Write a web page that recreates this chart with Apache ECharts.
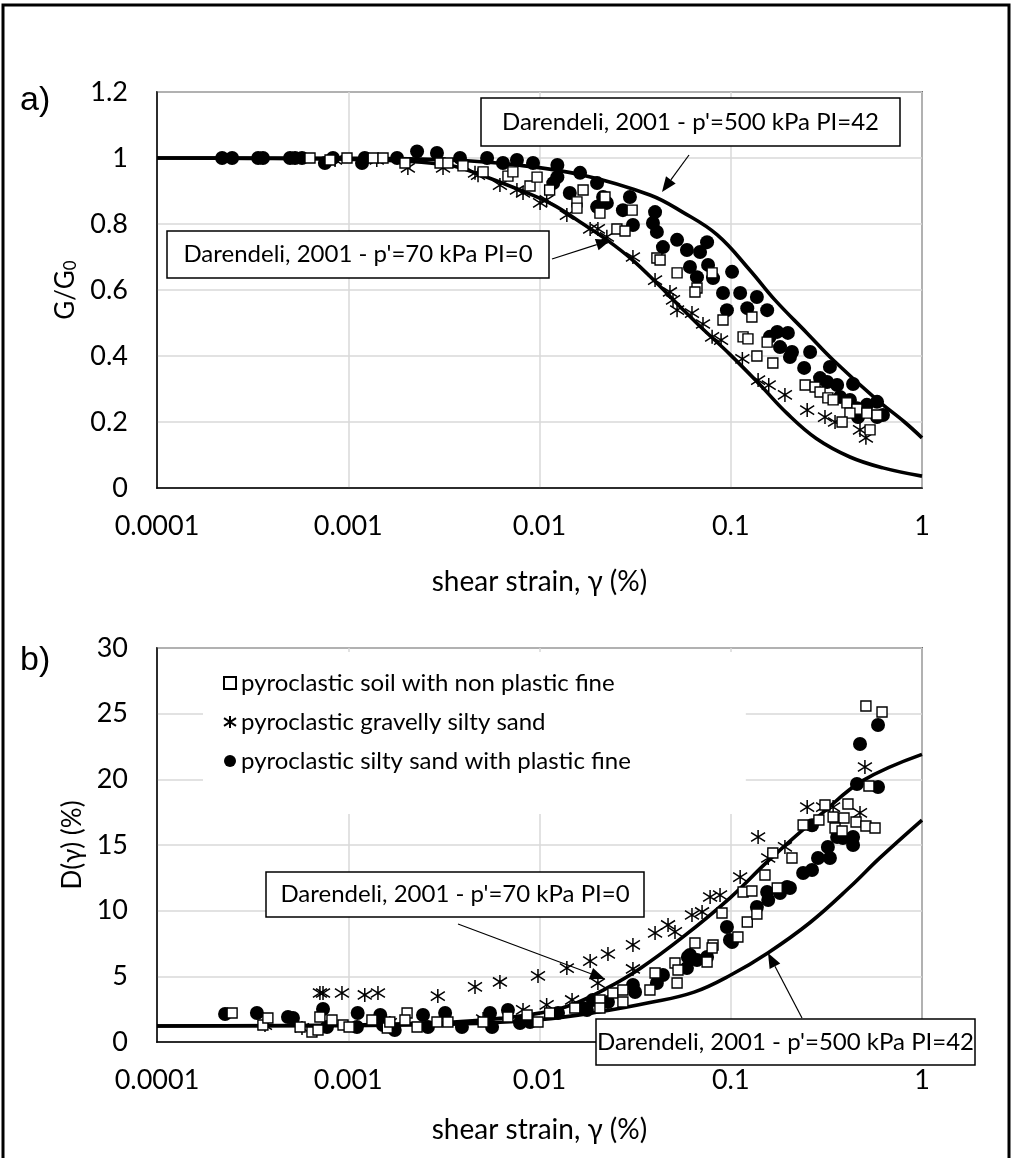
<!DOCTYPE html>
<html>
<head>
<meta charset="utf-8">
<script src="https://cdn.jsdelivr.net/npm/echarts@6/dist/echarts.min.js"></script>
<style>
html, body { margin: 0; padding: 0; background: #fff; }
#chart { width: 1013px; height: 1158px; }
</style>
</head>
<body>
<div id="chart"></div>
<script>
// Shear strain axis ticks (%)
const xTickLabels = ['0.0001', '0.001', '0.01', '0.1', '1'];
const seriesNames = [
  'pyroclastic soil with non plastic fine',
  'pyroclastic gravelly silty sand',
  'pyroclastic silty sand with plastic fine'
];

// ---- a) normalised shear modulus G/G0 vs shear strain (%) ----
const ggSquares = [
  [6.31e-4,1.0],[8.03e-4,0.994],[9.85e-4,1.0],[1.35e-3,1.0],[1.52e-3,1.0],[1.98e-3,0.985],
  [3.02e-3,0.985],[3.32e-3,0.985],[3.98e-3,0.976],[5.07e-3,0.958],[6.84e-3,0.945],[7.26e-3,0.958],
  [8.92e-3,0.915],[9.71e-3,0.942],[0.0113,0.903],[0.0157,0.867],[0.0157,0.848],[0.0169,0.903],
  [0.0207,0.833],[0.022,0.882],[0.0254,0.785],[0.028,0.779],[0.0305,0.842],[0.0411,0.697],
  [0.0427,0.691],[0.0524,0.652],[0.0666,0.606],[0.0799,0.652],[0.065,0.594],[0.0911,0.509],
  [0.129,0.518],[0.116,0.458],[0.123,0.452],[0.155,0.442],[0.137,0.40],[0.166,0.379],
  [0.245,0.312],[0.276,0.306],[0.293,0.291],[0.322,0.273],[0.343,0.267],[0.405,0.258],
  [0.457,0.239],[0.42,0.227],[0.515,0.227],[0.582,0.221],[0.382,0.20],[0.535,0.176]
];
const ggStars = [
  [8.53e-4,0.994],[1.41e-3,0.994],[2.05e-3,0.970],[3.13e-3,0.970],[4.77e-3,0.948],[4.6e-3,0.955],
  [6.21e-3,0.918],[7.62e-3,0.903],[8.2e-3,0.894],[0.01007,0.864],[0.0109,0.873],[0.0139,0.827],
  [0.0184,0.785],[0.0202,0.785],[0.0225,0.761],[0.0308,0.700],[0.0402,0.630],[0.0481,0.594],
  [0.0499,0.570],[0.0524,0.539],[0.0627,0.530],[0.0716,0.497],[0.0799,0.458],[0.089,0.448],
  [0.115,0.391],[0.139,0.327],[0.158,0.312],[0.192,0.282],[0.251,0.236],[0.311,0.215],
  [0.351,0.20],[0.474,0.176],[0.509,0.152]
];
const ggDots = [
  [2.19e-4,1.0],[2.47e-4,1.0],[3.38e-4,1.0],[3.58e-4,1.0],[4.96e-4,1.0],[5.27e-4,1.0],[5.73e-4,1.0],
  [7.55e-4,0.985],[8.32e-4,1.0],[1.18e-3,0.985],[1.22e-3,1.0],[1.8e-3,1.0],[2.29e-3,1.02],
  [2.91e-3,1.015],[3.84e-3,1.0],[5.32e-3,1.0],[6.44e-3,0.985],[7.62e-3,0.994],[9.25e-3,0.985],
  [0.0124,0.979],[0.0124,0.942],[0.0163,0.955],[0.0118,0.924],[0.0144,0.894],[0.020,0.924],
  [0.0215,0.882],[0.020,0.852],[0.0225,0.864],[0.0297,0.882],[0.0273,0.842],[0.0308,0.797],
  [0.0402,0.836],[0.0392,0.803],[0.0411,0.776],[0.0442,0.730],[0.0524,0.752],[0.059,0.721],
  [0.0691,0.715],[0.0752,0.745],[0.0612,0.670],[0.0666,0.639],[0.0761,0.676],[0.0808,0.636],
  [0.1016,0.655],[0.0911,0.591],[0.112,0.591],[0.137,0.579],[0.0955,0.539],[0.122,0.545],
  [0.155,0.539],[0.160,0.458],[0.175,0.473],[0.199,0.470],[0.181,0.427],[0.209,0.412],
  [0.204,0.397],[0.260,0.412],[0.242,0.364],[0.330,0.367],[0.293,0.333],[0.319,0.321],
  [0.360,0.312],[0.436,0.315],[0.373,0.276],[0.420,0.267],[0.457,0.242],[0.515,0.252],
  [0.582,0.261],[0.463,0.215],[0.582,0.215],[0.625,0.221]
];
const ggDarendeli70 = [
  [1e-4,1.0],[3e-4,0.999],[1e-3,0.996],[2e-3,0.99],[3.4e-3,0.977],[4.5e-3,0.957],[7.9e-3,0.903],
  [0.0118,0.858],[0.0163,0.806],[0.0225,0.752],[0.0308,0.69],[0.041,0.621],[0.054,0.551],
  [0.069,0.49],[0.099,0.405],[0.141,0.315],[0.197,0.226],[0.28,0.15],[0.42,0.094],
  [0.625,0.061],[1.0,0.036]
];
const ggDarendeli500 = [
  [1e-4,1.0],[1e-3,0.999],[3.4e-3,0.994],[7.6e-3,0.979],[0.0169,0.948],[0.0378,0.888],
  [0.056,0.836],[0.085,0.767],[0.126,0.66],[0.17,0.57],[0.25,0.47],[0.343,0.388],
  [0.582,0.267],[0.81,0.2],[1.0,0.152]
];

// ---- b) damping ratio D (%) vs shear strain (%) ----
const dSquares = [
  [2.47e-4,2.21],[3.58e-4,1.29],[3.8e-4,1.83],[5.6e-4,1.14],[6.46e-4,0.76],[7.11e-4,1.9],
  [6.95e-4,0.91],[8.22e-4,1.68],[9.39e-4,1.29],[1.01e-3,1.14],[1.33e-3,1.68],[1.6e-3,1.07],
  [1.65e-3,1.52],[2.03e-3,2.21],[1.98e-3,1.68],[2.29e-3,1.14],[2.91e-3,1.52],[3.32e-3,1.52],
  [5.07e-3,1.52],[6.84e-3,1.9],[8.61e-3,2.06],[9.82e-3,1.52],[0.0113,2.21],[0.0153,2.59],
  [0.0207,3.2],[0.0207,2.59],[0.0242,3.73],[0.0273,3.96],[0.0273,3.05],[0.0378,3.96],
  [0.0402,5.25],[0.0524,4.49],[0.0511,6.02],[0.053,5.48],[0.065,7.54],[0.0752,6.09],
  [0.0808,7.39],[0.0799,7.16],[0.109,8.0],[0.122,9.14],[0.090,9.82],[0.116,11.42],
  [0.129,11.5],[0.137,9.75],[0.151,12.72],[0.175,11.73],[0.166,14.39],[0.209,14.01],
  [0.239,16.52],[0.289,16.9],[0.311,18.05],[0.343,17.13],[0.391,17.06],[0.41,18.12],
  [0.351,16.29],[0.382,16.07],[0.452,16.75],[0.509,16.45],[0.568,16.29],[0.528,19.49],
  [0.509,25.58],[0.618,25.13]
];
const dStars = [
  [3.67e-4,1.29],[5.73e-4,1.07],[7.11e-4,3.73],[7.38e-4,3.73],[9.27e-4,3.73],[1.22e-3,3.58],
  [1.43e-3,3.73],[1.65e-3,1.45],[2.94e-3,3.5],[4.6e-3,4.19],[5.07e-3,1.75],[6.21e-3,4.57],
  [8.2e-3,2.44],[9.82e-3,5.03],[0.0109,2.82],[0.0139,5.63],[0.0148,3.2],[0.0184,6.16],
  [0.0202,4.49],[0.0228,6.7],[0.0308,7.39],[0.0308,5.56],[0.0402,8.3],[0.047,8.91],
  [0.0511,8.38],[0.0627,9.67],[0.0708,9.9],[0.078,11.04],[0.0879,11.19],[0.112,12.56],
  [0.139,15.61],[0.157,14.01],[0.192,14.85],[0.251,17.89],[0.304,17.89],[0.343,17.89],
  [0.474,17.44],[0.503,20.94]
];
const dDots = [
  [2.27e-4,2.13],[3.33e-4,2.21],[4.84e-4,1.9],[5.14e-4,1.83],[7.38e-4,2.51],[7.74e-4,1.14],
  [1.12e-3,2.21],[1.11e-3,1.14],[1.47e-3,2.06],[1.52e-3,1.29],[1.75e-3,0.91],[2.46e-3,2.06],
  [2.61e-3,1.14],[3.21e-3,2.21],[3.93e-3,1.14],[5.51e-3,2.21],[5.65e-3,1.14],[6.84e-3,2.44],
  [7.91e-3,1.45],[8.92e-3,1.52],[0.0125,2.21],[0.0177,2.44],[0.019,3.2],[0.0169,2.59],
  [0.0228,3.05],[0.0308,4.34],[0.0316,3.81],[0.0411,4.49],[0.0442,5.1],[0.059,5.63],
  [0.0612,6.62],[0.0666,6.24],[0.0752,6.47],[0.0597,6.47],[0.0955,8.76],[0.099,7.77],
  [0.1016,7.61],[0.137,10.28],[0.157,10.81],[0.155,11.42],[0.181,11.35],[0.197,11.8],
  [0.204,11.73],[0.239,12.87],[0.266,13.1],[0.286,14.01],[0.33,14.01],[0.322,14.85],
  [0.266,16.5],[0.36,15.61],[0.386,15.53],[0.436,15.61],[0.436,15.0],[0.457,19.65],
  [0.589,19.42],[0.474,22.69],[0.589,24.14]
];
const dDarendeli70 = [
  [1e-4,1.22],[1e-3,1.3],[3.4e-3,1.5],[6.2e-3,1.8],[0.01,2.2],[0.0145,2.8],[0.0225,4.1],
  [0.0336,5.6],[0.0563,8.0],[0.0996,11.0],[0.16,13.9],[0.30,17.4],[0.49,19.9],[1.0,21.9]
];
const dDarendeli500 = [
  [1e-4,1.22],[1e-3,1.25],[3.4e-3,1.35],[0.01,1.7],[0.0207,2.3],[0.0378,3.0],[0.0643,3.8],
  [0.1,5.1],[0.157,6.8],[0.26,9.1],[0.42,11.8],[0.6,14.0],[1.0,16.9]
];

const FONT = 'Lato, "Noto Sans", sans-serif';
const starPath = 'path://M5,0L5,10M0,1.8L10,8.2M0,8.2L10,1.8';

function xAxisFor(gridIndex, gap) {
  return {
    type: 'log', logBase: 10, gridIndex, min: 0.0001, max: 1,
    axisLine: { lineStyle: { color: '#000', width: 1.5 } },
    axisTick: { show: false },
    splitLine: { show: true, lineStyle: { color: '#d9d9d9', width: 1.5 } },
    axisLabel: {
      color: '#000', fontSize: 27, fontFamily: FONT, margin: 25,
      formatter: v => xTickLabels[Math.round(Math.log10(v)) + 4]
    },
    name: 'shear strain, \u03b3 (%)', nameLocation: 'middle', nameGap: gap,
    nameTextStyle: { color: '#000', fontSize: 28, fontFamily: FONT }
  };
}
function yAxisFor(gridIndex, max, interval, name, gap, digits) {
  return {
    type: 'value', gridIndex, min: 0, max, interval,
    axisLine: { show: true, lineStyle: { color: '#000', width: 1.5 } },
    axisTick: { show: false },
    splitLine: { show: true, lineStyle: { color: '#d9d9d9', width: 1.5 } },
    axisLabel: {
      color: '#000', fontSize: 27, fontFamily: FONT, margin: 29,
      formatter: v => String(+v.toFixed(digits))
    },
    name, nameLocation: 'middle', nameRotate: 90, nameGap: gap,
    nameTextStyle: {
      color: '#000', fontSize: 26, fontFamily: FONT,
      rich: { sub: { fontSize: 17, fontFamily: FONT, verticalAlign: 'bottom', padding: [10, 0, 0, 0] } }
    }
  };
}

function curve(data, xi) {
  return {
    type: 'line', xAxisIndex: xi, yAxisIndex: xi, data, showSymbol: false, symbol: 'none',
    smooth: 0.4, silent: true, z: 2,
    lineStyle: { color: '#000', width: 3.6 }
  };
}
function dots(data, xi) {
  return {
    name: seriesNames[2], type: 'scatter', xAxisIndex: xi, yAxisIndex: xi, data,
    symbol: 'circle', symbolSize: 14, z: 3,
    itemStyle: { color: '#000', opacity: 1 }
  };
}
function stars(data, xi) {
  return {
    name: seriesNames[1], type: 'scatter', xAxisIndex: xi, yAxisIndex: xi, data,
    symbol: starPath, symbolSize: 14, z: 4,
    itemStyle: { color: '#000', borderColor: '#000', borderWidth: 1.5, opacity: 1 }
  };
}
function squares(data, xi) {
  return {
    name: seriesNames[0], type: 'scatter', xAxisIndex: xi, yAxisIndex: xi, data,
    symbol: 'rect', symbolSize: 10, z: 5,
    itemStyle: { color: '#fff', borderColor: '#000', borderWidth: 1.4, opacity: 1 }
  };
}

// annotation box with centred caption
function noteBox(x, y, w, h, text) {
  return {
    type: 'group', children: [
      { type: 'rect', z: 50, shape: { x, y, width: w, height: h },
        style: { fill: '#fff', stroke: '#000', lineWidth: 1.5 } },
      { type: 'text', z: 51, x: x + w / 2, y: y + h / 2,
        style: { text, fill: '#000', font: '24px ' + FONT, align: 'center', verticalAlign: 'middle' } }
    ]
  };
}
// thin leader line ending in a filled arrow head at (x2, y2)
function arrow(x1, y1, x2, y2) {
  const a = Math.atan2(y2 - y1, x2 - x1), L = 15, W = 6;
  const bx = x2 - L * Math.cos(a), by = y2 - L * Math.sin(a);
  const px = -Math.sin(a) * W, py = Math.cos(a) * W;
  return {
    type: 'group', children: [
      { type: 'line', z: 52, shape: { x1, y1, x2: bx, y2: by }, style: { stroke: '#000', lineWidth: 1.2 } },
      { type: 'polygon', z: 52, shape: { points: [[x2, y2], [bx + px, by + py], [bx - px, by - py]] },
        style: { fill: '#000' } }
    ]
  };
}

const chart = echarts.init(document.getElementById('chart'), null, { renderer: 'canvas' });
chart.setOption({
  backgroundColor: '#fff',
  animation: false,
  textStyle: { fontFamily: FONT },
  grid: [
    { left: 157, top: 92, width: 765, height: 396, show: true, borderColor: '#000', borderWidth: 1.5, backgroundColor: 'transparent' },
    { left: 157, top: 648, width: 765, height: 394, show: true, borderColor: '#000', borderWidth: 1.5, backgroundColor: 'transparent' }
  ],
  xAxis: [xAxisFor(0, 80), xAxisFor(1, 74)],
  yAxis: [
    yAxisFor(0, 1.2, 0.2, 'G/G{sub|0}', 58, 1),
    yAxisFor(1, 30, 5, 'D(\u03b3) (%)', 52, 0)
  ],
  legend: {
    data: seriesNames, orient: 'vertical', left: 203, top: 652,
    padding: [18, 115, 40, 20], itemGap: 13, itemWidth: 12, itemHeight: 12, itemSymbolKeepAspect: true,
    backgroundColor: '#fff', selectedMode: false, z: 20,
    textStyle: { color: '#000', fontSize: 24, fontFamily: FONT, lineHeight: 26 }
  },
  series: [
    curve(ggDarendeli70, 0), curve(ggDarendeli500, 0),
    dots(ggDots, 0), stars(ggStars, 0), squares(ggSquares, 0),
    curve(dDarendeli70, 1), curve(dDarendeli500, 1),
    dots(dDots, 1), stars(dStars, 1), squares(dSquares, 1)
  ],
  graphic: [
    { type: 'rect', z: 60, silent: true, shape: { x: 3, y: 5, width: 1006, height: 1200 },
      style: { fill: 'none', stroke: '#000', lineWidth: 3 } },
    { type: 'text', x: 20, y: 101, z: 60,
      style: { text: 'a)', font: '34px "Liberation Sans", Arial, sans-serif', fill: '#000', verticalAlign: 'middle' } },
    { type: 'text', x: 20, y: 661, z: 60,
      style: { text: 'b)', font: '34px "Liberation Sans", Arial, sans-serif', fill: '#000', verticalAlign: 'middle' } },
    noteBox(481, 98, 419, 48, "Darendeli, 2001 - p'=500 kPa PI=42"),
    arrow(689, 155, 662, 192),
    noteBox(167, 231, 382, 47, "Darendeli, 2001 - p'=70 kPa PI=0"),
    arrow(552, 259, 611, 240),
    noteBox(266, 872, 378, 45, "Darendeli, 2001 - p'=70 kPa PI=0"),
    arrow(458, 924, 605, 979),
    noteBox(596, 1019, 379, 46, "Darendeli, 2001 - p'=500 kPa PI=42"),
    arrow(802, 1018, 768, 953)
  ]
});
</script>
</body>
</html>
